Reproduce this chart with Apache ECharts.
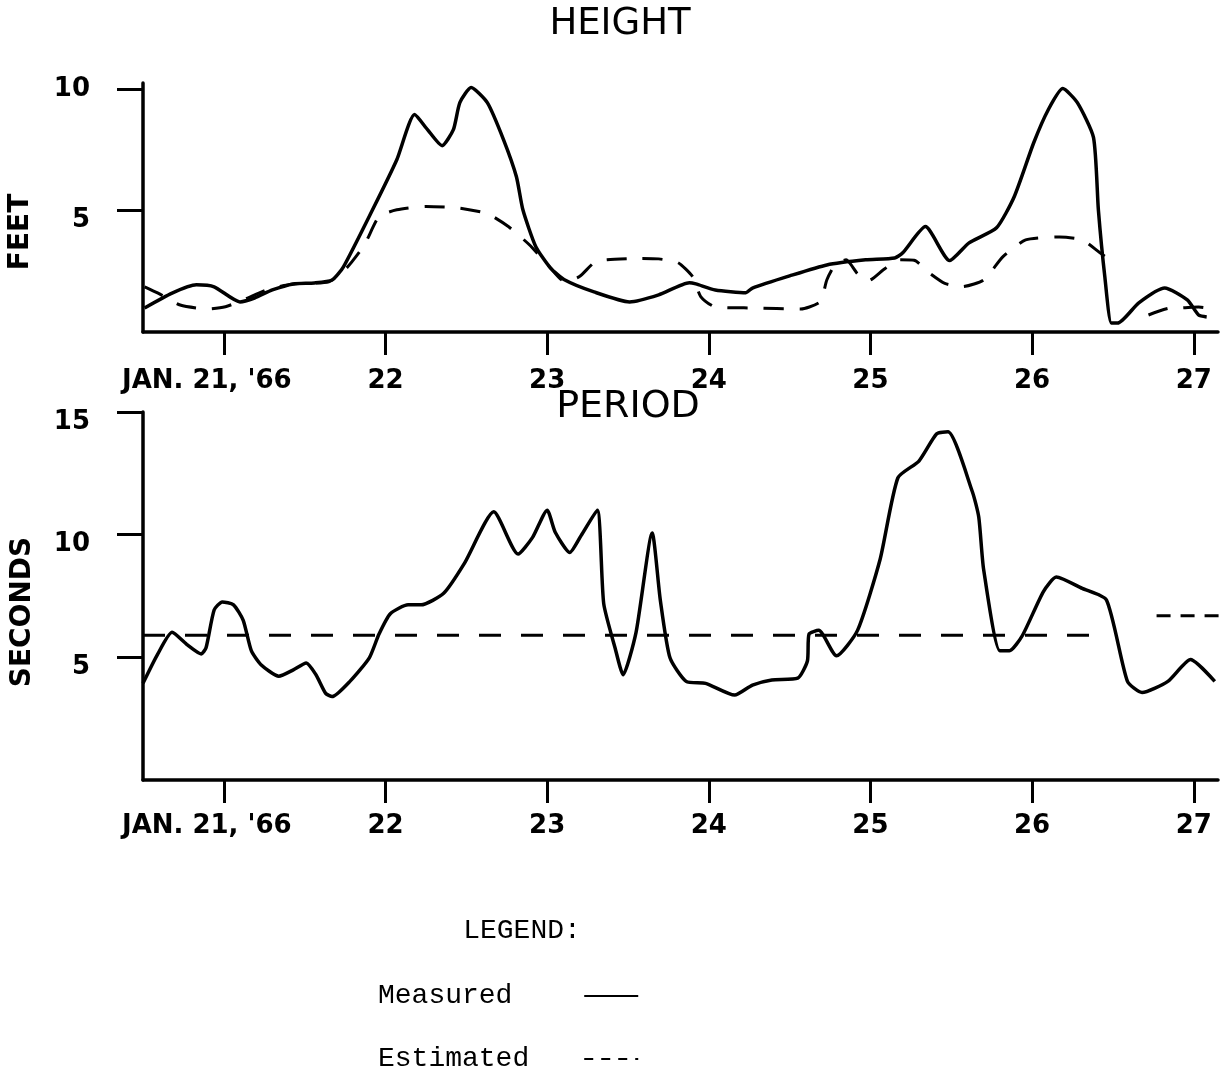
<!DOCTYPE html>
<html><head><meta charset="utf-8">
<script src="https://cdn.jsdelivr.net/npm/echarts@6/dist/echarts.min.js"></script>
<style>html,body{margin:0;padding:0;background:#fff}#c{width:1227px;height:1077px}</style>
</head><body><div id="c"></div>
<script>
// x values are days of January 1966
const dayTicks = [21, 22, 23, 24, 25, 26, 27];
const heightTicks = [5, 10];
const periodTicks = [5, 10, 15];

const heightMeasured = [
  [20.51,0.99],[20.68,1.6],[20.83,1.94],[20.94,1.86],[21.10,1.24],[21.19,1.40],[21.30,1.73],
  [21.43,1.98],[21.56,2.02],[21.67,2.14],[21.74,2.68],[21.92,5.03],[22.07,7.09],[22.18,8.95],
  [22.26,8.33],[22.35,7.67],[22.42,8.33],[22.46,9.44],[22.53,10.06],[22.63,9.44],[22.73,7.92],
  [22.81,6.39],[22.85,5.03],[22.93,3.51],[23.02,2.64],[23.11,2.14],[23.29,1.65],[23.51,1.24],
  [23.69,1.53],[23.88,2.03],[23.92,1.98],[24.04,1.73],[24.23,1.62],[24.27,1.81],[24.50,2.31],
  [24.73,2.76],[24.97,2.97],[25.15,3.05],[25.20,3.26],[25.34,4.34],[25.49,2.94],[25.61,3.67],
  [25.78,4.29],[25.89,5.58],[26.01,7.79],[26.10,9.15],[26.19,10.02],[26.28,9.44],[26.38,8.00],
  [26.41,5.03],[26.45,2.27],[26.49,0.37],[26.53,0.37],[26.66,1.20],[26.82,1.81],[26.96,1.32],
  [27.03,0.70],[27.08,0.62]
];
const heightEstimated = [
  [20.51,1.86],[20.59,1.61],[20.73,1.11],[20.90,0.95],[21.01,1.04],[21.12,1.32],[21.28,1.77],
  [21.43,1.98],[21.65,2.07],[21.76,2.64],[21.87,3.59],[21.96,4.75],[22.07,5.03],[22.25,5.17],
  [22.45,5.11],[22.63,4.87],[22.76,4.34],[22.89,3.59],[23.02,2.64],[23.11,2.07],[23.20,2.28],
  [23.29,2.85],[23.37,2.97],[23.58,3.03],[23.69,3.01],[23.81,2.85],[23.90,2.28],[23.95,1.46],
  [24.04,1.03],[24.27,0.99],[24.57,0.95],[24.69,1.25],[24.73,2.14],[24.78,2.75],[24.85,2.97],
  [24.92,2.40],[24.99,2.12],[25.08,2.56],[25.18,2.97],[25.27,2.95],[25.37,2.40],[25.46,2.00],
  [25.57,1.87],[25.70,2.14],[25.82,3.10],[25.96,3.79],[26.17,3.91],[26.31,3.79],[26.42,3.26],
  [26.52,2.80]
];
const heightEstimatedEnd = [
  [26.72,0.70],[26.86,0.99],[26.90,0.99],[27.03,1.03],[27.15,0.91]
];
const periodMeasured = [
  [20.50,3.94],[20.59,5.12],[20.68,6.02],[20.77,5.53],[20.86,5.14],[20.89,5.39],[20.94,6.93],
  [20.99,7.26],[21.06,7.14],[21.12,6.51],[21.17,5.27],[21.23,4.70],[21.34,4.23],[21.43,4.49],
  [21.51,4.77],[21.57,4.29],[21.63,3.53],[21.67,3.40],[21.78,4.02],[21.90,4.98],[21.96,5.95],
  [22.03,6.78],[22.14,7.14],[22.22,7.14],[22.36,7.61],[22.49,8.85],[22.67,10.93],[22.82,9.21],
  [22.91,9.89],[23.00,11.0],[23.05,10.10],[23.14,9.27],[23.21,9.96],[23.31,11.0],[23.35,7.19],
  [23.42,5.39],[23.47,4.29],[23.55,6.02],[23.65,10.07],[23.70,7.34],[23.76,4.98],[23.86,4.02],
  [23.98,3.94],[24.16,3.46],[24.27,3.87],[24.39,4.08],[24.55,4.15],[24.61,4.85],[24.62,5.95],
  [24.68,6.10],[24.79,5.06],[24.92,6.10],[25.06,9.00],[25.17,12.32],[25.30,13.0],[25.41,14.11],
  [25.48,14.19],[25.63,11.76],[25.67,10.72],[25.70,8.59],[25.80,5.27],[25.86,5.27],[25.94,5.89],
  [26.07,7.68],[26.15,8.27],[26.31,7.81],[26.46,7.34],[26.59,4.02],[26.68,3.57],[26.84,4.02],
  [26.98,4.91],[27.13,4.02]
];
const periodEstimated = [[20.50,5.9],[26.46,5.9]];
const periodEstimatedEnd = [[26.77,6.7],[27.2,6.7]];

const INK = '#000';
const tickFont = {fontFamily:'DejaVu Sans', fontWeight:'bold', fontSize:26, color:INK};

function xAxisOpt(gridIndex, margin){
  return {
    type:'value', gridIndex, min:20.5, max:27.15,
    axisLine:{show:true, lineStyle:{color:INK, width:3.5}},
    axisTick:{show:true, customValues:dayTicks, length:23, lineStyle:{color:INK, width:3}},
    splitLine:{show:false},
    axisLabel:Object.assign({
      customValues:dayTicks, margin,
      formatter:v => v === 21 ? "{j|JAN. 21, '66}" : String(v),
      rich:{j:Object.assign({padding:[0,34,0,0]}, tickFont)}
    }, tickFont)
  };
}
function yAxisOpt(gridIndex, max, ticks, low){
  return {
    type:'value', gridIndex, min:0, max,
    axisLine:{show:true, lineStyle:{color:INK, width:3.5}},
    axisTick:{show:true, customValues:ticks, length:26, lineStyle:{color:INK, width:3}},
    splitLine:{show:false},
    axisLabel:Object.assign({
      customValues:ticks, margin:53,
      formatter:v => low(v) ? '{d|' + v + '}' : String(v),
      rich:{d:Object.assign({padding:[20,0,0,0]}, tickFont)}
    }, tickFont)
  };
}
function line(name, data, xi, dash, extra){
  return Object.assign({
    name, type:'line', data, xAxisIndex:xi, yAxisIndex:xi,
    symbol:'none', smooth:0.2, animation:false,
    lineStyle:{color:INK, width:dash ? 3 : 3.5, type:dash || 'solid'},
    itemStyle:{color:INK}
  }, extra || {});
}

const chart = echarts.init(document.getElementById('c'), null, {renderer:'canvas'});
chart.setOption({
  backgroundColor:'#fff',
  animation:false,
  grid:[
    {left:143, right:9, top:83, height:249, outerBoundsMode:'none', containLabel:false},
    {left:143, right:9, top:412, height:368, outerBoundsMode:'none', containLabel:false}
  ],
  xAxis:[xAxisOpt(0, 36), xAxisOpt(1, 33)],
  yAxis:[
    yAxisOpt(0, 10.25, heightTicks, v => v === 5),
    yAxisOpt(1, 15, periodTicks, v => true)
  ],
  legend:{
    orient:'vertical', left:378, top:982, align:'right', padding:0,
    itemWidth:54, itemHeight:30, itemGap:35, selectedMode:false,
    formatter:n => n.padEnd(9, ' '),
    itemStyle:{opacity:0, borderWidth:0},
    textStyle:{fontFamily:'Liberation Mono', fontSize:28, color:INK, padding:[0,50,0,0]},
    data:[
      {name:'Measured', lineStyle:{width:2, type:'solid', color:INK}},
      {name:'Estimated', lineStyle:{width:2, type:[9,8], color:INK}}
    ]
  },
  graphic:[
    {type:'text', x:620, y:24, style:{text:'HEIGHT', font:'normal 37px "DejaVu Sans"', fill:INK, align:'center', verticalAlign:'middle'}},
    {type:'text', x:628, y:407, z:100, style:{text:'PERIOD', font:'normal 38px "DejaVu Sans"', fill:INK, align:'center', verticalAlign:'middle'}},
    {type:'text', x:21, y:232, rotation:Math.PI/2, style:{text:'FEET', font:'bold 28px "DejaVu Sans"', fill:INK, align:'center', verticalAlign:'middle'}},
    {type:'text', x:23, y:612, rotation:Math.PI/2, style:{text:'SECONDS', font:'bold 28px "DejaVu Sans"', fill:INK, align:'center', verticalAlign:'middle'}},
    {type:'text', x:522, y:931, style:{text:'LEGEND:', font:'normal 28px "Liberation Mono"', fill:INK, align:'center', verticalAlign:'middle'}}
  ],
  series:[
    line('Measured', heightMeasured, 0, null),
    line('Estimated', heightEstimated, 0, [20,16]),
    line('Estimated', heightEstimatedEnd, 0, [20,16]),
    line('Measured', periodMeasured, 1, null),
    line('Estimated', periodEstimated, 1, [22,20], {smooth:false}),
    line('Estimated', periodEstimatedEnd, 1, [14,10], {smooth:false, clip:false})
  ]
});
</script>
</body></html>
